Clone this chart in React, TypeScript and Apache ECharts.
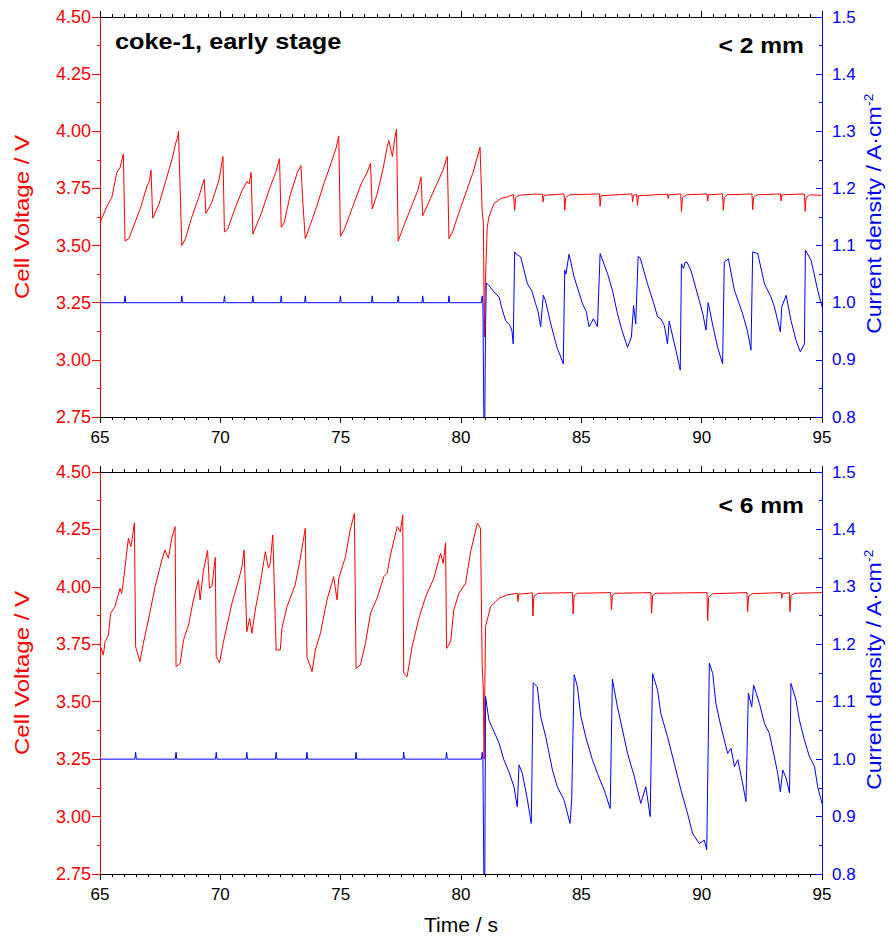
import { useEffect, useRef } from "react";
import * as echarts from "echarts";

const RED = "#ff0000";
const BLUE = "#0000ff";
const FONT = '"Liberation Sans", Arial, Helvetica, sans-serif';

const timeRange = [65, 95];
const voltageRange = [2.75, 4.5];
const currentRange = [0.8, 1.5];
const panelTitle = "coke-1, early stage";
const panelLabels = ["< 2 mm", "< 6 mm"];
const xName = "Time / s";
const leftName = "Cell Voltage / V";
const rightName = "Current density / A·cm{sup|-2}";
const baseCurrent = 1.0;
const spikeCurrent = 1.012;

// Panel 1 (< 2 mm): cell voltage [time, V]
const p1Voltage: number[][] = [
  [65.0, 3.6], [65.28, 3.67], [65.49, 3.71], [65.7, 3.82], [65.83, 3.84], [65.9, 3.87], [65.97, 3.9],
  [66.04, 3.52], [66.2, 3.53], [66.45, 3.6], [66.7, 3.67], [66.95, 3.76], [67.05, 3.78], [67.12, 3.83],
  [67.19, 3.62], [67.45, 3.68], [67.75, 3.79], [68.0, 3.88], [68.15, 3.95], [68.22, 3.97], [68.26, 4.0],
  [68.4, 3.5], [68.55, 3.53], [68.8, 3.62], [69.1, 3.71], [69.33, 3.79],
  [69.4, 3.64], [69.65, 3.69], [69.95, 3.79], [70.11, 3.89],
  [70.17, 3.56], [70.3, 3.57], [70.6, 3.66], [70.9, 3.74], [71.1, 3.78], [71.2, 3.77], [71.28, 3.82],
  [71.35, 3.55], [71.7, 3.64], [72.05, 3.75], [72.3, 3.82], [72.46, 3.88],
  [72.53, 3.58], [72.65, 3.6], [72.9, 3.72], [73.2, 3.82], [73.35, 3.85], [73.42, 3.7],
  [73.53, 3.53], [73.7, 3.58], [74.0, 3.67], [74.3, 3.77], [74.6, 3.86], [74.82, 3.93], [74.92, 3.98],
  [74.99, 3.54], [75.15, 3.57], [75.5, 3.67], [75.85, 3.77], [76.1, 3.82], [76.24, 3.86],
  [76.31, 3.66], [76.5, 3.72], [76.75, 3.83], [76.93, 3.93], [77.0, 3.96], [77.15, 3.89], [77.25, 3.97], [77.32, 4.01],
  [77.39, 3.52], [77.6, 3.58], [77.9, 3.66], [78.2, 3.74], [78.34, 3.8],
  [78.41, 3.63], [78.7, 3.7], [79.0, 3.77], [79.25, 3.83], [79.43, 3.89],
  [79.5, 3.53], [79.65, 3.56], [79.9, 3.64], [80.2, 3.73], [80.5, 3.82], [80.79, 3.93],
  [80.88, 3.65], [80.93, 3.6], [80.97, 3.1], [81.0, 3.3], [81.09, 3.58], [81.16, 3.625], [81.37, 3.684],
  [81.65, 3.706], [81.92, 3.713], [82.18, 3.723], [82.23, 3.654], [82.27, 3.71], [82.4, 3.72],
  [83.0, 3.725], [83.38, 3.725], [83.41, 3.691], [83.45, 3.72], [84.28, 3.726], [84.31, 3.654],
  [84.35, 3.71], [84.5, 3.722], [85.75, 3.726], [85.78, 3.672], [85.82, 3.718], [87.1, 3.726],
  [87.13, 3.691], [87.17, 3.72], [87.3, 3.724], [87.33, 3.676], [87.37, 3.718], [88.58, 3.725],
  [88.61, 3.706], [88.64, 3.722], [89.13, 3.726], [89.16, 3.647], [89.2, 3.71], [89.35, 3.722],
  [90.22, 3.726], [90.25, 3.695], [90.28, 3.722], [90.87, 3.726], [90.9, 3.654], [90.94, 3.71],
  [91.05, 3.722], [92.09, 3.726], [92.12, 3.657], [92.16, 3.71], [92.3, 3.722], [93.27, 3.726],
  [93.3, 3.695], [93.33, 3.722], [94.27, 3.726], [94.3, 3.65], [94.34, 3.71], [94.5, 3.722], [95.0, 3.72],
];

// Panel 1: small current spikes before the switch [time]
const p1SpikeTimes = [66.04, 68.4, 70.17, 71.35, 72.53, 73.53, 74.99, 76.31, 77.39, 78.41, 79.5, 80.88];

// Panel 1: current density after the switch [time, A/cm2]
const p1CurrentAfter: number[][] = [
  [80.93, 1.0], [80.95, 0.8], [80.99, 0.8], [81.02, 0.96], [81.05, 1.035], [81.16, 1.03], [81.35, 1.02],
  [81.58, 1.01], [81.7, 0.99], [81.85, 0.969], [82.0, 0.962], [82.06, 0.958], [82.12, 0.95], [82.17, 0.928],
  [82.23, 1.089], [82.3, 1.085], [82.48, 1.08], [82.6, 1.06], [82.76, 1.033], [82.95, 1.02], [83.1, 0.998],
  [83.2, 0.985], [83.31, 0.958], [83.42, 1.013], [83.5, 1.005], [83.73, 0.963], [84.0, 0.92], [84.1, 0.91],
  [84.25, 0.893], [84.31, 1.057], [84.36, 1.05], [84.49, 1.085], [84.7, 1.045], [85.05, 0.998], [85.2, 0.985],
  [85.32, 0.958], [85.42, 0.965], [85.5, 0.972], [85.67, 0.958], [85.78, 1.086], [86.09, 1.051], [86.3, 1.02],
  [86.5, 0.981], [86.7, 0.95], [86.92, 0.922], [87.08, 0.94], [87.17, 0.995], [87.26, 0.963], [87.36, 1.081],
  [87.45, 1.078], [87.75, 1.033], [88.0, 1.0], [88.17, 0.975], [88.3, 0.972], [88.45, 0.96], [88.58, 0.928],
  [88.65, 0.968], [88.8, 0.94], [88.93, 0.917], [89.11, 0.882], [89.16, 1.068], [89.25, 1.06], [89.3, 1.07],
  [89.39, 1.071], [89.55, 1.057], [89.9, 1.004], [90.05, 0.98], [90.18, 0.952], [90.27, 1.0], [90.45, 0.963],
  [90.66, 0.922], [90.87, 0.893], [90.94, 1.071], [91.11, 1.077], [91.36, 1.022], [91.7, 0.981], [91.91, 0.949],
  [92.05, 0.917], [92.12, 1.089], [92.33, 1.086], [92.61, 1.033], [92.88, 1.01], [93.02, 0.993], [93.27, 0.949],
  [93.33, 0.993], [93.51, 1.013], [93.71, 0.969], [93.92, 0.934], [94.1, 0.914], [94.27, 0.928], [94.31, 1.092],
  [94.55, 1.074], [94.82, 1.022], [95.0, 0.993],
];

// Panel 2 (< 6 mm): cell voltage [time, V]
const p2Voltage: number[][] = [
  [65.0, 3.747], [65.14, 3.703], [65.21, 3.761], [65.35, 3.79], [65.44, 3.885], [65.62, 3.914], [65.83, 3.993],
  [65.9, 3.972], [65.97, 4.023], [66.18, 4.211], [66.28, 4.175], [66.32, 4.197], [66.43, 4.279],
  [66.48, 3.74], [66.66, 3.674], [66.8, 3.754], [67.01, 3.856], [67.29, 4.001], [67.57, 4.117], [67.7, 4.16],
  [67.84, 4.124], [67.98, 4.211], [68.12, 4.262],
  [68.16, 3.653], [68.33, 3.667], [68.47, 3.769], [68.68, 3.834], [68.88, 3.943], [69.09, 4.03], [69.16, 3.943],
  [69.3, 4.073], [69.47, 4.158], [69.55, 3.994], [69.65, 4.001], [69.79, 4.128],
  [69.83, 3.696], [69.97, 3.67], [70.13, 3.761], [70.48, 3.928], [70.76, 4.03], [70.9, 4.088], [70.99, 4.16],
  [71.1, 3.805], [71.22, 3.863], [71.31, 3.798], [71.45, 3.899], [71.66, 4.015], [71.87, 4.153], [72.0, 4.081],
  [72.07, 4.102], [72.18, 4.226],
  [72.32, 3.725], [72.49, 3.725], [72.56, 3.819], [72.77, 3.914], [73.11, 4.008], [73.32, 4.124], [73.53, 4.255],
  [73.6, 3.696], [73.81, 3.631], [73.95, 3.725], [74.16, 3.798], [74.43, 3.943], [74.71, 4.044], [74.85, 3.943],
  [74.92, 4.037], [75.2, 4.131], [75.38, 4.24], [75.57, 4.32],
  [75.64, 3.645], [75.82, 3.66], [76.03, 3.754], [76.24, 3.885], [76.51, 3.95], [76.79, 4.044], [76.93, 4.059],
  [77.07, 4.139], [77.35, 4.262], [77.48, 4.24], [77.58, 4.313],
  [77.62, 3.623], [77.76, 3.609], [77.97, 3.74], [78.25, 3.863], [78.53, 3.957], [78.87, 4.037], [79.15, 4.146],
  [79.26, 4.102], [79.36, 4.192],
  [79.4, 3.732], [79.57, 3.761], [79.7, 3.899], [79.91, 3.972], [80.19, 4.015], [80.4, 4.153], [80.68, 4.277],
  [80.81, 4.255], [80.88, 3.653], [80.93, 3.55], [80.96, 3.25], [80.99, 3.55], [81.02, 3.827], [81.23, 3.914],
  [81.58, 3.95], [81.92, 3.965], [82.34, 3.972], [82.37, 3.936], [82.4, 3.968], [82.96, 3.974], [82.99, 3.873],
  [83.03, 3.96], [83.2, 3.972], [84.63, 3.975], [84.66, 3.882], [84.7, 3.962], [84.85, 3.972], [86.22, 3.975],
  [86.25, 3.899], [86.29, 3.962], [86.4, 3.972], [87.89, 3.975], [87.92, 3.885], [87.96, 3.962], [88.1, 3.972],
  [90.22, 3.975], [90.25, 3.853], [90.29, 3.955], [90.45, 3.97], [91.88, 3.975], [91.91, 3.892], [91.95, 3.96],
  [92.1, 3.97], [93.3, 3.975], [93.33, 3.95], [93.36, 3.97], [93.64, 3.975], [93.67, 3.892], [93.71, 3.962],
  [93.85, 3.972], [95.0, 3.975],
];

// Panel 2: small current spikes before the switch [time]
const p2SpikeTimes = [66.48, 68.16, 69.83, 71.1, 72.32, 73.6, 75.64, 77.62, 79.4, 80.88];

// Panel 2: current density after the switch [time, A/cm2]
const p2CurrentAfter: number[][] = [
  [80.93, 1.0], [80.95, 0.8], [80.99, 0.8], [81.02, 1.109], [81.16, 1.068], [81.37, 1.048], [81.58, 1.028],
  [81.78, 0.999], [81.99, 0.978], [82.2, 0.952], [82.34, 0.917], [82.41, 0.99], [82.55, 0.975], [82.76, 0.929],
  [82.92, 0.888], [83.0, 1.133], [83.17, 1.126], [83.31, 1.074], [83.52, 1.039], [83.8, 0.981], [84.0, 0.952],
  [84.28, 0.929], [84.39, 0.911], [84.53, 0.888], [84.6, 0.929], [84.7, 1.147], [84.84, 1.126], [84.97, 1.077],
  [85.18, 1.039], [85.46, 0.999], [85.67, 0.975], [85.95, 0.946], [86.2, 0.914], [86.29, 1.139], [86.5, 1.091],
  [86.71, 1.051], [86.92, 1.01], [87.2, 0.97], [87.47, 0.923], [87.68, 0.952], [87.86, 0.9], [87.96, 1.149],
  [88.17, 1.12], [88.3, 1.08], [88.58, 1.039], [88.86, 0.993], [89.14, 0.946], [89.41, 0.906], [89.62, 0.871],
  [89.9, 0.853], [90.11, 0.859], [90.21, 0.842], [90.32, 1.167], [90.46, 1.149], [90.59, 1.097], [90.8, 1.057],
  [91.08, 1.01], [91.22, 1.019], [91.36, 0.987], [91.5, 0.999], [91.7, 0.958], [91.84, 0.926], [91.94, 1.115],
  [92.08, 1.091], [92.16, 1.129], [92.4, 1.097], [92.61, 1.062], [92.81, 1.045], [93.02, 1.004], [93.16, 0.975],
  [93.27, 0.943], [93.37, 0.981], [93.51, 0.967], [93.65, 0.941], [93.71, 1.132], [93.92, 1.103], [94.06, 1.068],
  [94.27, 1.033], [94.48, 1.004], [94.69, 0.987], [94.82, 0.952], [95.0, 0.923],
];

function buildCurrent(spikes: number[], after: number[][]): number[][] {
  const pts: number[][] = [[timeRange[0], baseCurrent]];
  spikes.forEach((t) => {
    pts.push([t - 0.03, baseCurrent], [t, spikeCurrent], [t + 0.03, baseCurrent]);
  });
  return pts.concat(after);
}

const GRIDS = [
  { left: 100, right: 66, top: 17, height: 400, containLabel: false, outerBoundsMode: "none" },
  { left: 100, right: 66, top: 472, height: 402, containLabel: false, outerBoundsMode: "none" },
];

function xAxis(gridIndex: number, position: string, labels: boolean, name?: string) {
  return {
    type: "value",
    gridIndex,
    position,
    min: timeRange[0],
    max: timeRange[1],
    interval: 5,
    axisLine: { show: true, onZero: false, lineStyle: { color: "#000", width: 1 } },
    axisTick: { show: true, inside: false, length: 6, lineStyle: { color: "#000", width: 1 } },
    minorTick: { show: true, splitNumber: 10, length: 3, lineStyle: { color: "#000", width: 1 } },
    splitLine: { show: false },
    minorSplitLine: { show: false },
    axisLabel: { show: labels, color: "#000", fontSize: 17, fontFamily: FONT, margin: 12 },
    name: name || "",
    nameLocation: "middle",
    nameGap: 40,
    nameTextStyle: { color: "#000", fontSize: 21, fontFamily: FONT },
  };
}

function leftAxis(gridIndex: number) {
  return {
    type: "value",
    gridIndex,
    position: "left",
    min: voltageRange[0],
    max: voltageRange[1],
    interval: 0.25,
    axisLine: { show: true, onZero: false, lineStyle: { color: RED, width: 1 } },
    axisTick: { show: true, inside: false, length: 8, lineStyle: { color: RED, width: 1 } },
    minorTick: { show: true, splitNumber: 2, length: 3, lineStyle: { color: RED, width: 1 } },
    splitLine: { show: false },
    minorSplitLine: { show: false },
    axisLabel: {
      color: RED,
      fontSize: 18,
      fontFamily: FONT,
      margin: 9,
      formatter: (v: number) => v.toFixed(2),
    },
  };
}

function rightAxis(gridIndex: number) {
  return {
    type: "value",
    gridIndex,
    position: "right",
    min: currentRange[0],
    max: currentRange[1],
    interval: 0.1,
    axisLine: { show: true, onZero: false, lineStyle: { color: BLUE, width: 1 } },
    axisTick: { show: true, inside: true, length: 6, lineStyle: { color: BLUE, width: 1 } },
    minorTick: { show: true, splitNumber: 2, length: 3, lineStyle: { color: BLUE, width: 1 } },
    splitLine: { show: false },
    minorSplitLine: { show: false },
    axisLabel: {
      color: BLUE,
      fontSize: 17,
      fontFamily: FONT,
      margin: 10,
      formatter: (v: number) => v.toFixed(1),
    },
  };
}

function lineSeries(xi: number, yi: number, data: number[][], color: string) {
  return {
    type: "line",
    xAxisIndex: xi,
    yAxisIndex: yi,
    data,
    showSymbol: false,
    symbol: "none",
    clip: true,
    lineStyle: { color, width: 1 },
    itemStyle: { color },
    emphasis: { disabled: true },
  };
}

function axisNames(centerY: number) {
  return [
    {
      type: "text",
      x: 22,
      y: centerY,
      rotation: Math.PI / 2,
      scaleX: 1.2,
      style: {
        text: leftName,
        fill: RED,
        font: `20px ${FONT}`,
        align: "center",
        verticalAlign: "middle",
      },
    },
    {
      type: "text",
      x: 874,
      y: centerY - 3,
      rotation: Math.PI / 2,
      scaleX: 1.15,
      style: {
        text: rightName,
        fill: BLUE,
        font: `20px ${FONT}`,
        align: "center",
        verticalAlign: "middle",
        rich: {
          sup: { fill: BLUE, font: `12px ${FONT}`, verticalAlign: "top", lineHeight: 22 },
        },
      },
    },
  ];
}

export default function App() {
  const ref = useRef<HTMLDivElement>(null);

  useEffect(() => {
    if (!ref.current) return;
    const chart = echarts.init(ref.current, undefined, { renderer: "svg" });
    const option: any = {
      animation: false,
      backgroundColor: "#ffffff",
      textStyle: { fontFamily: FONT },
      grid: GRIDS,
      xAxis: [
        xAxis(0, "bottom", true),
        xAxis(0, "top", false),
        xAxis(1, "bottom", true, xName),
        xAxis(1, "top", false),
      ],
      yAxis: [leftAxis(0), rightAxis(0), leftAxis(1), rightAxis(1)],
      series: [
        lineSeries(0, 0, p1Voltage, RED),
        lineSeries(0, 1, buildCurrent(p1SpikeTimes, p1CurrentAfter), BLUE),
        lineSeries(2, 2, p2Voltage, RED),
        lineSeries(2, 3, buildCurrent(p2SpikeTimes, p2CurrentAfter), BLUE),
      ],
      graphic: [
        ...axisNames(217),
        ...axisNames(673),
        {
          type: "text",
          x: 115,
          y: 42,
          scaleX: 1.15,
          style: { text: panelTitle, fill: "#000", font: `bold 22px ${FONT}`, align: "left", verticalAlign: "middle" },
        },
        {
          type: "text",
          x: 804,
          y: 45,
          scaleX: 1.12,
          style: { text: panelLabels[0], fill: "#000", font: `bold 22px ${FONT}`, align: "right", verticalAlign: "middle" },
        },
        {
          type: "text",
          x: 804,
          y: 505,
          scaleX: 1.12,
          style: { text: panelLabels[1], fill: "#000", font: `bold 22px ${FONT}`, align: "right", verticalAlign: "middle" },
        },
      ],
    };
    chart.setOption(option);
    return () => chart.dispose();
  }, []);

  return (
    <div
      ref={ref}
      style={{ position: "absolute", left: 0, top: 0, width: 888, height: 939, background: "#fff" }}
    />
  );
}
